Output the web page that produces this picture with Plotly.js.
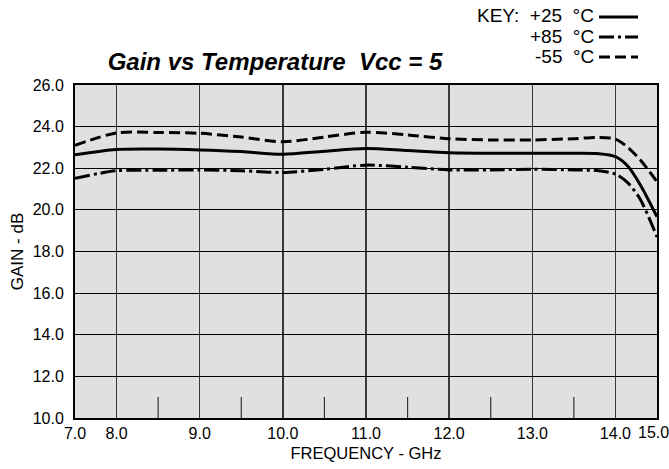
<!DOCTYPE html>
<html>
<head>
<meta charset="utf-8">
<script src="https://cdn.plot.ly/plotly-3.0.1.min.js"></script>
<style>html,body{margin:0;padding:0;background:#fff;}</style>
</head>
<body>
<div id="chart" style="width:669px;height:469px;"></div>
<script>
// Axis positions (the chart's end labels 7.0 and 15.0 sit at half-spaced edges)
var freqPos = [7.5, 8.0, 8.5, 9.0, 9.5, 10.0, 10.5, 11.0, 11.5, 12.0, 12.5, 13.0, 13.5, 13.8, 14.0, 14.15, 14.3, 14.5];
var gain25 = [22.65, 22.9, 22.92, 22.88, 22.8, 22.67, 22.82, 22.95, 22.85, 22.75, 22.72, 22.72, 22.72, 22.7, 22.56, 22.1, 21.2, 19.67];
var gain85 = [21.52, 21.88, 21.9, 21.92, 21.88, 21.8, 21.95, 22.15, 22.05, 21.92, 21.92, 21.95, 21.92, 21.88, 21.72, 21.3, 20.5, 18.7];
var gainM55 = [23.1, 23.7, 23.72, 23.68, 23.5, 23.27, 23.5, 23.73, 23.6, 23.42, 23.36, 23.36, 23.42, 23.48, 23.4, 23.0, 22.4, 21.35];

var xTickVals = [7.5, 8, 9, 10, 11, 12, 13, 14];
var xTickText = ['7.0', '8.0', '9.0', '10.0', '11.0', '12.0', '13.0', '14.0'];
var xEndVal = 14.5, xEndText = '15.0';
var xMinorVals = [8.5, 9.5, 10.5, 11.5, 12.5, 13.5];
var yTickVals = [10, 12, 14, 16, 18, 20, 22, 24, 26];
var yTickText = ['10.0', '12.0', '14.0', '16.0', '18.0', '20.0', '22.0', '24.0', '26.0'];
var keyLabels = ['KEY:&nbsp;&nbsp;+25&nbsp;&nbsp;°C', '+85&nbsp;&nbsp;°C', '-55&nbsp;&nbsp;°C'];

var FONT = 'Liberation Sans, Arial, sans-serif';
var DASH_M55 = '11px,5px';
var DASH_85 = '15px,4px,3px,4px';

var traces = [
  {x: freqPos, y: gain25, mode: 'lines', line: {color: '#000', width: 3, shape: 'spline', smoothing: 0.8}, name: '+25 °C', hoverinfo: 'skip'},
  {x: freqPos, y: gain85, mode: 'lines', line: {color: '#000', width: 3, shape: 'spline', smoothing: 0.8, dash: DASH_85}, name: '+85 °C', hoverinfo: 'skip'},
  {x: freqPos, y: gainM55, mode: 'lines', line: {color: '#000', width: 3, shape: 'spline', smoothing: 0.8, dash: DASH_M55}, name: '-55 °C', hoverinfo: 'skip'}
];

var keyY = [16, 36, 56];
var keyDash = ['solid', DASH_85, DASH_M55];
var annotations = [];
var shapes = [];
for (var i = 0; i < keyLabels.length; i++) {
  annotations.push({
    text: keyLabels[i], xref: 'paper', yref: 'paper',
    x: (596 - 75) / 582, xanchor: 'right',
    y: 1 + (85 - keyY[i]) / 333, yanchor: 'middle',
    showarrow: false, font: {family: FONT, size: 19, color: '#000'}
  });
  shapes.push({
    type: 'line', xref: 'paper', yref: 'paper',
    x0: (599 - 75) / 582, x1: (638 - 75) / 582,
    y0: 1 + (85 - keyY[i] - 1) / 333, y1: 1 + (85 - keyY[i] - 1) / 333,
    line: {color: '#000', width: 3, dash: keyDash[i]}
  });
}
// end label 15.0, nudged left so it stays inside the page
annotations.push({
  text: xEndText, xref: 'x', yref: 'paper', x: xEndVal, y: 0,
  xanchor: 'center', yanchor: 'top', xshift: -4, yshift: -4,
  showarrow: false, font: {family: FONT, size: 16, color: '#000'}
});
// minor bottom ticks drawn as short lines anchored to x data values
for (var j = 0; j < xMinorVals.length; j++) {
  shapes.push({
    type: 'line', xref: 'x', yref: 'paper',
    x0: xMinorVals[j], x1: xMinorVals[j], y0: 0, y1: 21 / 333,
    line: {color: '#333', width: 1.2}
  });
}

var layout = {
  width: 669, height: 469,
  margin: {l: 75, r: 12, t: 85, b: 51, pad: 0},
  paper_bgcolor: '#fff',
  plot_bgcolor: '#e0e0e0',
  showlegend: false,
  font: {family: FONT, size: 16, color: '#000'},
  title: {
    text: '<b><i>Gain vs Temperature&nbsp;&nbsp;Vcc = 5</i></b>',
    font: {family: FONT, size: 24, color: '#000'},
    x: 275 / 669, xanchor: 'center', xref: 'container',
    y: 1 - 62 / 469, yanchor: 'middle', yref: 'container'
  },
  xaxis: {
    range: [7.5, 14.5], fixedrange: true,
    tickmode: 'array', tickvals: xTickVals, ticktext: xTickText,
    ticks: '', showgrid: true, gridcolor: '#3a3a3a', gridwidth: 1.5,
    showline: true, mirror: true, linecolor: '#000', linewidth: 2,
    zeroline: false, ticklabeloverflow: 'allow',
    tickfont: {family: FONT, size: 16, color: '#000'},
    title: {text: 'FREQUENCY - GHz', font: {family: FONT, size: 16.5, color: '#000'}, standoff: 6}
  },
  yaxis: {
    range: [10, 26], fixedrange: true,
    tickmode: 'array', tickvals: yTickVals, ticktext: yTickText,
    ticks: '', showgrid: true, gridcolor: '#000', gridwidth: 1,
    showline: true, mirror: true, linecolor: '#000', linewidth: 2,
    zeroline: false, ticklabelstandoff: 6,
    tickfont: {family: FONT, size: 16, color: '#000'},
    title: {text: 'GAIN - dB', font: {family: FONT, size: 17, color: '#000'}, standoff: 5}
  },
  annotations: annotations,
  shapes: shapes
};

Plotly.newPlot('chart', traces, layout, {displayModeBar: false, staticPlot: true});
</script>
</body>
</html>
